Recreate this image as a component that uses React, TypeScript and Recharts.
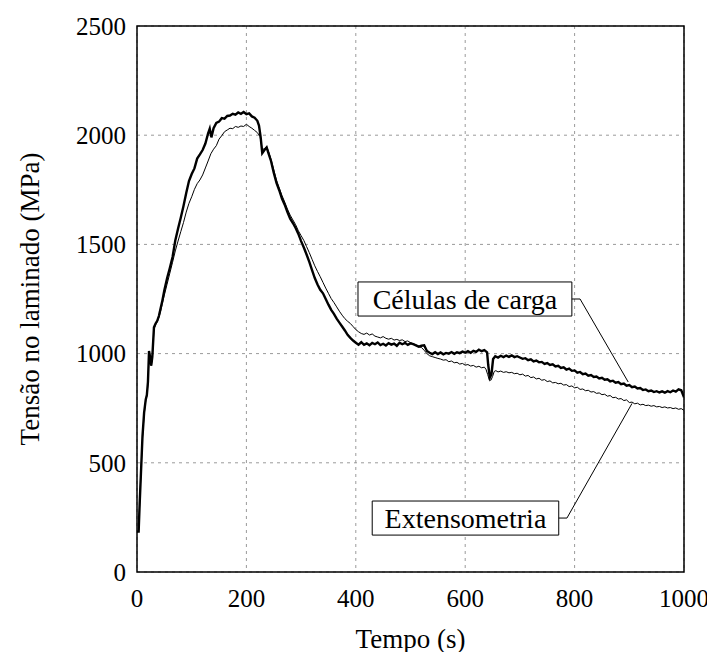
import React from 'react';
import { LineChart, Line, XAxis, YAxis, CartesianGrid, ReferenceArea, ReferenceLine } from 'recharts';

const FONT = 'Liberation Serif';

const xTicks = [0, 200, 400, 600, 800, 1000];
const xMinorTicks = [100, 300, 500, 700, 900];
const yTicks = [0, 500, 1000, 1500, 2000, 2500];
const yMinorTicks = [250, 750, 1250, 1750, 2250];

const xTitle = 'Tempo (s)';
const yTitle = 'Tensão no laminado (MPa)';
const labelCarga = 'Células de carga';
const labelExt = 'Extensometria';

// [tempo (s), tensão (MPa)]
const celulasCarga: [number, number][] = [
  [0,185],[3,185],[5,320],[8,500],[10,620],[13,730],[16,790],[18,810],[20,870],[22,1012],[24,985],[26,945],[28,985],
  [31,1120],[34,1138],[37,1150],[40,1172],[43,1205],[46,1238],[50,1290],[55,1345],[60,1392],[65,1442],[70,1518],
  [75,1572],[80,1622],[85,1676],[90,1735],[95,1790],[100,1822],[105,1848],[110,1893],[115,1912],[120,1932],[125,1962],
  [130,2008],[133,2030],[136,1990],[140,2032],[145,2056],[150,2062],[155,2078],[160,2076],[165,2088],[170,2090],
  [175,2098],[180,2094],[185,2104],[190,2098],[195,2106],[200,2096],[205,2100],[210,2086],[215,2080],[220,2066],
  [223,2044],[226,1992],[229,1918],[233,1932],[237,1944],[241,1912],[245,1882],[250,1828],[255,1782],[260,1748],
  [265,1710],[270,1682],[275,1648],[280,1618],[285,1598],[290,1575],[295,1548],[300,1515],[305,1486],[310,1454],
  [315,1420],[320,1382],[325,1346],[330,1316],[335,1292],[340,1276],[345,1250],[350,1224],[355,1200],[360,1182],
  [365,1160],[370,1142],[375,1124],[380,1106],[385,1086],[390,1072],[395,1060],
  [400,1050],[405,1041],[410,1052],[415,1040],[420,1047],[425,1038],[430,1049],[435,1043],[440,1051],[445,1039],
  [450,1045],[455,1037],[460,1048],[465,1041],[470,1046],[475,1036],[480,1050],[485,1043],[490,1049],[495,1040],
  [500,1047],[505,1043],[510,1038],[515,1032],[520,1036],[525,1038],[530,1012],[535,1004],[540,998],[545,1006],
  [550,998],[555,1005],[560,997],[565,1003],[570,1000],[575,1007],[580,999],[585,1006],[590,1002],[595,1009],
  [600,1004],[605,1011],[610,1004],[615,1013],[620,1008],[625,1018],[630,1011],[635,1016],[640,1006],[642,950],
  [645,890],[648,905],[651,975],[655,988],[660,982],[665,990],[670,984],[675,991],[680,985],[685,992],[690,984],
  [695,988],[700,982],[705,976],[710,979],[715,970],[720,974],[725,964],[730,968],[735,960],[740,962],[745,953],
  [750,957],[755,948],[760,951],[765,941],[770,944],[775,934],[780,937],[785,927],[790,931],[795,921],[800,923],
  [805,913],[810,916],[815,906],[820,909],[825,899],[830,902],[835,893],[840,895],[845,886],[850,889],[855,880],
  [860,882],[865,873],[870,876],[875,867],[880,870],[885,860],[890,863],[895,853],[900,856],[905,846],[910,849],
  [915,840],[920,842],[925,833],[930,836],[935,828],[940,831],[945,824],[950,828],[955,822],[960,827],[965,821],
  [970,828],[975,823],[980,831],[985,826],[990,836],[995,832],[1000,800],
];

const extensometria: [number, number][] = [
  [0,185],[3,185],[5,320],[8,500],[10,610],[13,720],[16,785],[18,805],[20,860],[22,1000],[24,980],[26,945],[28,975],
  [31,1110],[34,1132],[37,1145],[40,1165],[43,1192],[46,1225],[50,1268],[55,1318],[60,1368],[65,1418],[70,1470],
  [75,1515],[80,1558],[85,1600],[90,1648],[95,1688],[100,1718],[105,1752],[110,1778],[115,1795],[120,1818],[125,1850],
  [130,1882],[135,1915],[140,1936],[145,1952],[150,1982],[155,1998],[160,2016],[165,2024],[170,2032],[175,2030],
  [180,2040],[185,2036],[190,2042],[195,2040],[200,2050],[205,2040],[210,2032],[215,2022],[220,2012],[225,1994],
  [229,1935],[233,1938],[237,1948],[241,1922],[245,1890],[250,1842],[255,1794],[260,1758],[265,1724],[270,1694],
  [275,1662],[280,1634],[285,1612],[290,1590],[295,1562],[300,1540],[305,1518],[310,1490],[315,1462],[320,1432],
  [325,1402],[330,1376],[335,1352],[340,1326],[345,1300],[350,1276],[355,1252],[360,1234],[365,1214],[370,1194],
  [375,1176],[380,1160],[385,1148],[390,1138],[395,1124],[400,1110],[405,1100],[410,1092],[415,1088],[420,1094],
  [425,1085],[430,1090],[435,1080],[440,1076],[445,1072],[450,1078],[455,1070],[460,1066],[465,1070],[470,1062],
  [475,1065],[480,1060],[485,1063],[490,1055],[495,1058],[500,1050],[505,1045],[510,1040],[515,1032],[520,1028],
  [525,1015],[530,1000],[535,990],[540,986],[545,982],[550,978],[555,975],[560,970],[565,972],[570,963],[575,966],
  [580,958],[585,960],[590,952],[595,955],[600,947],[605,950],[610,943],[615,946],[620,938],[625,942],[630,935],
  [635,938],[638,928],[641,905],[644,880],[647,878],[650,895],[653,918],[656,922],[660,916],[665,920],[670,914],
  [675,917],[680,912],[685,914],[690,908],[695,910],[700,903],[705,906],[710,897],[715,900],[720,890],[725,893],
  [730,884],[735,887],[740,878],[745,881],[750,872],[755,875],[760,866],[765,868],[770,862],[775,864],[780,856],
  [785,858],[790,849],[795,852],[800,843],[805,846],[810,836],[815,838],[820,830],[825,832],[830,824],[835,826],
  [840,818],[845,820],[850,812],[855,814],[860,805],[865,808],[870,798],[875,800],[880,792],[885,794],[890,785],
  [895,788],[900,776],[905,778],[910,770],[915,773],[920,765],[925,768],[930,762],[935,764],[940,759],[945,762],
  [950,756],[955,758],[960,753],[965,756],[970,751],[975,753],[980,748],[985,751],[990,745],[995,748],[1000,740],
];

const cargaData = celulasCarga.map(([t, v]) => ({ t, v }));
const extData = extensometria.map(([t, v]) => ({ t, v }));

// annotation boxes & leader lines (data coordinates)
const boxCarga = { x1: 404, x2: 795, y1: 1172, y2: 1328 };
const leaderCarga = [{ x: 795, y: 1250 }, { x: 810, y: 1250 }, { x: 898, y: 870 }];
const boxExt = { x1: 430, x2: 771, y1: 169, y2: 325 };
const leaderExt = [{ x: 771, y: 247 }, { x: 786, y: 247 }, { x: 905, y: 772 }];

const TICK_FS = 25;
const TITLE_FS = 27;

const YTitle = (props: any) => {
  const vb = props.viewBox || { x: 0, y: 0, width: 0, height: 0 };
  const cx = vb.x + 22;
  const cy = vb.y + vb.height / 2;
  return (
    <text x={cx} y={cy} transform={`rotate(-90 ${cx} ${cy})`} textAnchor="middle" dominantBaseline="central"
      style={{ fontFamily: FONT }} fontSize={TITLE_FS} fill="#000">{yTitle}</text>
  );
};

const XTitle = (props: any) => {
  const vb = props.viewBox || { x: 0, y: 0, width: 0, height: 0 };
  return (
    <text x={vb.x + vb.width / 2} y={vb.y + 76} textAnchor="middle" style={{ fontFamily: FONT }} fontSize={TITLE_FS} fill="#000">{xTitle}</text>
  );
};

const tickStyle = { fontFamily: FONT, fontSize: TICK_FS, fill: '#000' };
const tl = { stroke: '#333', strokeWidth: 1 };

export default function App() {
  return (
    <div style={{ width: 699, height: 644, fontFamily: FONT }}>
      <LineChart width={707} height={652} margin={{ top: 18, right: 31, bottom: 0, left: 0 }} style={{ fontFamily: FONT }}>
        <CartesianGrid stroke="#9a9a9a" strokeDasharray="3 4" strokeWidth={1} />
        <XAxis xAxisId={0} dataKey="t" type="number" domain={[0, 1000]} ticks={xTicks} interval={0}
          allowDataOverflow height={88} tickLine={false} axisLine={false} tickSize={0} tickMargin={17}
          tick={tickStyle} label={<XTitle />} />
        <YAxis yAxisId={0} type="number" domain={[0, 2500]} ticks={yTicks} interval={0}
          allowDataOverflow width={129} tickLine={false} axisLine={false} tickSize={0} tickMargin={11}
          tick={tickStyle} label={<YTitle />} />
        {/* inward tick marks */}
        <XAxis xAxisId="bMaj" orientation="bottom" mirror type="number" domain={[0, 1000]} allowDataOverflow ticks={xTicks} interval={0} height={0} tick={false} axisLine={false} tickSize={10} tickLine={tl} />
        <XAxis xAxisId="bMin" orientation="bottom" mirror type="number" domain={[0, 1000]} allowDataOverflow ticks={xMinorTicks} interval={0} height={0} tick={false} axisLine={false} tickSize={6} tickLine={tl} />
        <XAxis xAxisId="tMaj" orientation="top" mirror type="number" domain={[0, 1000]} allowDataOverflow ticks={xTicks} interval={0} height={0} tick={false} axisLine={false} tickSize={10} tickLine={tl} />
        <XAxis xAxisId="tMin" orientation="top" mirror type="number" domain={[0, 1000]} allowDataOverflow ticks={xMinorTicks} interval={0} height={0} tick={false} axisLine={false} tickSize={6} tickLine={tl} />
        <YAxis yAxisId="lMaj" orientation="left" mirror type="number" domain={[0, 2500]} allowDataOverflow ticks={yTicks} interval={0} width={0} tick={false} axisLine={false} tickSize={10} tickLine={tl} />
        <YAxis yAxisId="lMin" orientation="left" mirror type="number" domain={[0, 2500]} allowDataOverflow ticks={yMinorTicks} interval={0} width={0} tick={false} axisLine={false} tickSize={6} tickLine={tl} />
        <YAxis yAxisId="rMaj" orientation="right" mirror type="number" domain={[0, 2500]} allowDataOverflow ticks={yTicks} interval={0} width={0} tick={false} axisLine={false} tickSize={10} tickLine={tl} />
        <YAxis yAxisId="rMin" orientation="right" mirror type="number" domain={[0, 2500]} allowDataOverflow ticks={yMinorTicks} interval={0} width={0} tick={false} axisLine={false} tickSize={6} tickLine={tl} />

        <ReferenceArea x1={boxCarga.x1} x2={boxCarga.x2} y1={boxCarga.y1} y2={boxCarga.y2} fill="#fff" fillOpacity={1}
          stroke="#000" strokeWidth={1} ifOverflow="visible"
          label={{ value: labelCarga, position: 'center', fontFamily: FONT, fontSize: 28, fill: '#000' }} />
        <ReferenceArea x1={boxExt.x1} x2={boxExt.x2} y1={boxExt.y1} y2={boxExt.y2} fill="#fff" fillOpacity={1}
          stroke="#000" strokeWidth={1} ifOverflow="visible"
          label={{ value: labelExt, position: 'center', fontFamily: FONT, fontSize: 28, fill: '#000' }} />
        <ReferenceLine segment={[leaderCarga[0], leaderCarga[1]]} stroke="#000" strokeWidth={1} ifOverflow="visible" />
        <ReferenceLine segment={[leaderCarga[1], leaderCarga[2]]} stroke="#000" strokeWidth={1} ifOverflow="visible" />
        <ReferenceLine segment={[leaderExt[0], leaderExt[1]]} stroke="#000" strokeWidth={1} ifOverflow="visible" />
        <ReferenceLine segment={[leaderExt[1], leaderExt[2]]} stroke="#000" strokeWidth={1} ifOverflow="visible" />

        <Line data={extData} dataKey="v" type="linear" stroke="#000" strokeWidth={1} dot={false} activeDot={false} isAnimationActive={false} />
        <Line data={cargaData} dataKey="v" type="linear" stroke="#000" strokeWidth={2.4} dot={false} activeDot={false} isAnimationActive={false} />

        <ReferenceArea x1={0} x2={1000} y1={0} y2={2500} fill="none" stroke="#000" strokeWidth={1.5} ifOverflow="visible" />
      </LineChart>
    </div>
  );
}
